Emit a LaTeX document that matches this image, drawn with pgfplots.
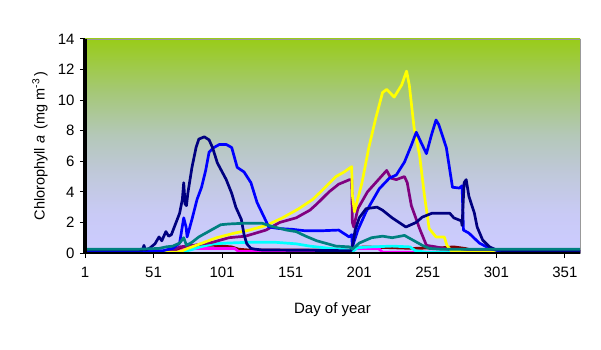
\documentclass[border=0pt]{standalone}
\usepackage{pgfplots}
\pgfplotsset{compat=1.18}
\usepackage{fontspec}
\setmainfont{Liberation Sans}
\definecolor{navyc}{RGB}{0,0,128}
\definecolor{bluec}{RGB}{0,0,255}
\definecolor{yelc}{RGB}{255,255,0}
\definecolor{purc}{RGB}{128,0,128}
\definecolor{tealc}{RGB}{0,128,128}
\definecolor{cyanc}{RGB}{0,255,255}
\definecolor{marc}{RGB}{128,0,0}
\definecolor{magc}{RGB}{255,0,255}
\pgfdeclareverticalshading{bgshade}{100bp}{rgb(0bp)=(0.8,0.8,1); rgb(25bp)=(0.8,0.8,1); rgb(34bp)=(0.788,0.792,0.965); rgb(44bp)=(0.75,0.786,0.85); rgb(52.5bp)=(0.706,0.784,0.725); rgb(62.5bp)=(0.647,0.784,0.47); rgb(75bp)=(0.6,0.8,0.098); rgb(100bp)=(0.6,0.8,0.098)}
\begin{document}
\begin{tikzpicture}
\useasboundingbox (-85bp,-97bp) rectangle (516bp,253bp);
\begin{axis}[
  at={(0,0)}, anchor=south west,
  scale only axis, width=495bp, height=214bp,
  xmin=1, xmax=362, ymin=0, ymax=14,
  xtick={1,51,101,151,201,251,301,351},
  ytick={0,2,4,6,8,10,12,14},
  xtick pos=bottom, ytick pos=left,
  tick align=outside,
  major tick length=5bp,
  tick style={black, line width=1bp},
  axis line style={draw=gray!80, line width=0.6bp},
  axis background/.style={shading=bgshade},
  /pgf/number format/assume math mode=true,
  ticklabel style={font=\fontsize{15bp}{17bp}\selectfont},
  xticklabel style={yshift=-6bp},
  yticklabel style={xshift=-2bp},
  every axis y label/.style={at={(axis description cs:0,0.5)}, xshift=-45bp, rotate=90, anchor=center, font=\fontsize{14.5bp}{17bp}\selectfont},
  every axis x label/.style={at={(axis description cs:0.5,0)}, yshift=-57bp, anchor=center, font=\fontsize{15bp}{18bp}\selectfont},
  xlabel={Day of year},
  ylabel={Chlorophyll \textit{a}\, (mg m\textsuperscript{-3}\,)},
  every axis plot/.append style={line width=2.7bp, line join=round},
  after end axis/.code={
    \draw[black, line width=3bp] (rel axis cs:0,0) -- (rel axis cs:0,1);
    \draw[black, line width=1.5bp] (rel axis cs:0,0) -- (rel axis cs:1,0);
  },
]
% maroon
\addplot[marc] coordinates {(1,0.1) (65,0.1) (70,0.3) (78,0.5) (95,0.5) (108,0.4) (113,0.25) (120,0.2) (195,0.2) (198,0.35) (205,0.4) (240,0.3) (262,0.35) (270,0.4) (278,0.3) (285,0.15) (300,0.1) (365,0.1)};
% magenta
\addplot[magc] coordinates {(1,0.05) (68,0.05) (72,0.2) (76,0.3) (110,0.3) (113,0.1) (196,0.05) (198,0.3) (215,0.3) (218,0.05) (365,0.05)};
% cyan
\addplot[cyanc] coordinates {(1,0.05) (70,0.05) (78,0.2) (85,0.4) (95,0.6) (105,0.65) (120,0.7) (140,0.7) (155,0.6) (165,0.45) (180,0.3) (193,0.2) (196,0.1) (200,0.35) (210,0.4) (225,0.45) (238,0.4) (242,0.15) (250,0.05) (365,0.05)};
% purple
\addplot[purc] coordinates {(1,0.1) (62,0.1) (66,0.2) (70,0.4) (80,0.5) (94,0.7) (106,1.0) (118,1.1) (133,1.5) (143,2.0) (155,2.3) (165,2.8) (170,3.2) (179,4.0) (186,4.5) (194,4.8) (195.5,4.8) (196,2.0) (197,1.7) (200,2.9) (207,4.0) (213,4.6) (221,5.4) (224,4.9) (228,4.8) (234,5.0) (236,4.6) (239,3.1) (245,1.6) (250,0.5) (257,0.4) (262,0.3) (270,0.2) (290,0.1) (365,0.1)};
% yellow
\addplot[yelc] coordinates {(1,0.05) (68,0.05) (72,0.15) (76,0.3) (85,0.6) (97,1.0) (110,1.3) (121,1.5) (133,1.8) (145,2.3) (157,2.9) (167,3.5) (174,4.1) (184,5.0) (190,5.3) (195.5,5.65) (196,3.8) (197.5,2.7) (203,4.6) (208,6.9) (213,8.8) (218,10.5) (221,10.7) (226.5,10.2) (232,11.0) (235.5,11.9) (237.5,11.0) (241,8.2) (245,6.4) (248.5,3.8) (252,1.6) (257,1.05) (263,1.05) (265,0.5) (268,0.15) (280,0.05) (365,0.05)};
% blue
\addplot[bluec] coordinates {(1,0.15) (58,0.15) (60,0.2) (65,0.3) (70,0.65) (73,2.3) (74.7,1.7) (75.5,1.05) (79,2.2) (82.7,3.5) (86,4.3) (89,5.4) (91.5,6.6) (95,6.9) (99,7.1) (104,7.1) (108,6.9) (112,5.6) (117,5.3) (122,4.6) (126.5,3.3) (131.6,2.35) (135,1.7) (142.6,1.6) (152,1.55) (162,1.45) (172,1.45) (186,1.5) (193.7,1.05) (195.5,1.2) (196,0.4) (200,1.5) (206,2.7) (215.6,4.2) (223,4.9) (228,5.1) (234,5.95) (239,7.05) (242.6,7.9) (246,7.25) (250,6.5) (253.6,7.7) (257,8.7) (259,8.4) (264.5,6.9) (269,4.3) (274,4.25) (276,4.4) (277,1.5) (281,1.3) (288.6,0.65) (296,0.3) (303,0.13) (310,0.08) (365,0.08)};
% navy
\addplot[navyc] coordinates {(1,0.2) (43,0.2) (44,0.5) (45,0.2) (48,0.3) (52,0.6) (55,1.05) (57,0.8) (60,1.4) (62,1.1) (64,1.2) (67,1.9) (70,2.6) (72,3.5) (73,4.6) (74,3.2) (75,3.1) (76,3.9) (79,5.6) (82,6.9) (84,7.45) (88,7.6) (91.5,7.4) (94,6.9) (97.5,5.9) (104,4.8) (108,3.9) (111,3.0) (115,2.2) (117,1.2) (119,0.6) (122,0.3) (125,0.25) (130,0.2) (195,0.15) (196,0.4) (198,1.5) (201,2.3) (206,2.9) (214,3.0) (218,2.8) (225,2.3) (235,1.7) (242.5,2.0) (247,2.35) (254,2.6) (267,2.6) (270,2.3) (275.5,2.1) (276,1.8) (277.5,4.6) (279,4.8) (281,3.7) (285,2.6) (287,1.7) (291,0.85) (296,0.4) (301,0.2) (310,0.12) (365,0.1)};
% teal
\addplot[tealc] coordinates {(1,0.25) (40,0.25) (55,0.3) (60,0.4) (65,0.45) (70,0.65) (73,1.0) (75,0.5) (79,0.7) (84,1.05) (93,1.5) (100,1.85) (106,1.9) (118,1.95) (130,1.95) (137,1.75) (148,1.5) (155,1.4) (162,1.1) (170,0.8) (184,0.45) (194,0.4) (196,0.25) (201,0.65) (210,1.0) (218,1.1) (225,1.0) (234,1.15) (240,0.85) (247,0.5) (252,0.3) (260,0.25) (365,0.25)};
\end{axis}
\end{tikzpicture}
\end{document}
